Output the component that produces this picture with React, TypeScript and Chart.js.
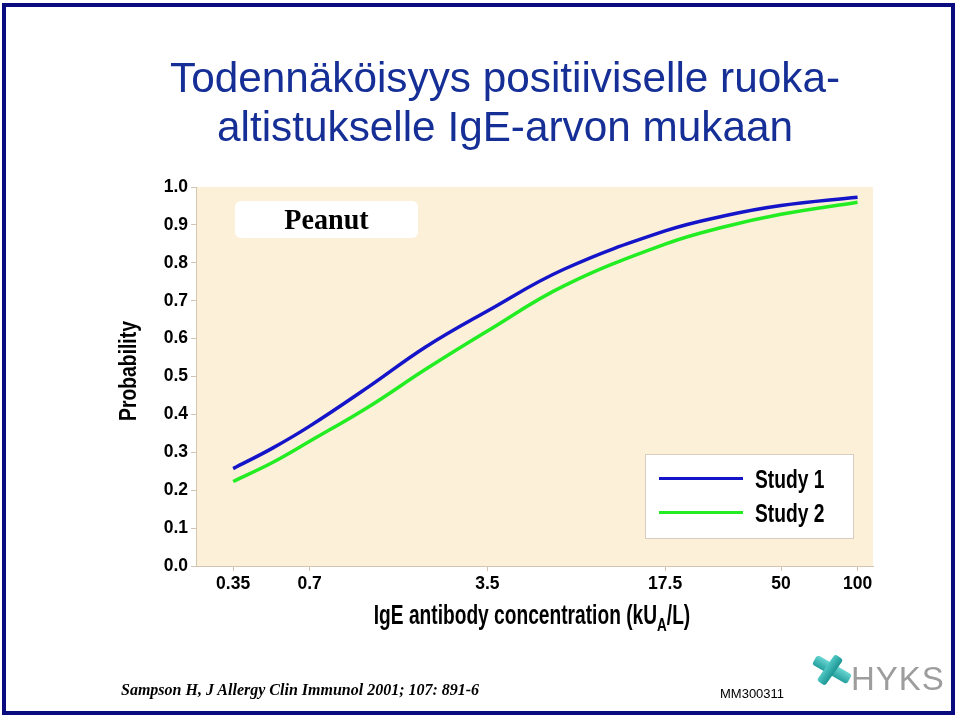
import React, { useEffect, useRef } from "react";
import { Chart, registerables } from "chart.js";

Chart.register(...registerables);

// ---- data ----
const titleLines = ["Todennäköisyys positiiviselle ruoka-", "altistukselle IgE-arvon mukaan"];
const panelLabel = "Peanut";
const yAxisTitle = "Probability";
const seriesNames = ["Study 1", "Study 2"];
const seriesColors = ["#1414c8", "#22ec22"];
const concentrations = [0.35, 0.5, 0.7, 1.2, 2.0, 3.5, 7.0, 17.5, 30, 50, 100];
const study1 = [0.257, 0.311, 0.369, 0.474, 0.578, 0.673, 0.783, 0.884, 0.924, 0.951, 0.973];
const study2 = [0.223, 0.273, 0.329, 0.421, 0.519, 0.62, 0.739, 0.849, 0.895, 0.928, 0.96];
const xTickValues = [0.35, 0.7, 3.5, 17.5, 50, 100];
const xTickLabels = ["0.35", "0.7", "3.5", "17.5", "50", "100"];
const yTickValues = [0, 0.1, 0.2, 0.3, 0.4, 0.5, 0.6, 0.7, 0.8, 0.9, 1.0];
const citation = "Sampson H, J Allergy Clin Immunol 2001; 107: 891-6";
const slideCode = "MM300311";
const logoText = "HYKS";

const SANS = "'Liberation Sans', Arial, Helvetica, sans-serif";
const SERIF = "'Liberation Serif', 'Times New Roman', serif";
const AXIS_COLOR = "#d2c6b2";

const plotBg = {
  id: "plotBg",
  beforeDraw(chart: any) {
    const { ctx, chartArea } = chart;
    if (!chartArea) return;
    ctx.save();
    ctx.fillStyle = "#fdf0d9";
    ctx.fillRect(chartArea.left, chartArea.top, chartArea.right - chartArea.left, chartArea.bottom - chartArea.top);
    ctx.restore();
  },
};

export default function App() {
  const canvasRef = useRef<HTMLCanvasElement | null>(null);

  useEffect(() => {
    document.body.style.margin = "0";
    const canvas = canvasRef.current;
    if (!canvas) return;
    const toPoints = (ys: number[]) => concentrations.map((x, i) => ({ x, y: ys[i] }));
    const chart = new Chart(canvas, {
      type: "line",
      data: {
        datasets: seriesNames.map((name, k) => ({
          label: name,
          data: toPoints(k === 0 ? study1 : study2),
          borderColor: seriesColors[k],
          borderWidth: 3.5,
          pointRadius: 0,
          tension: 0.4,
          fill: false,
        })),
      },
      options: {
        animation: false,
        responsive: false,
        devicePixelRatio: 1,
        layout: { padding: { left: 100, right: 87, top: 187, bottom: 94 } },
        plugins: { legend: { display: false }, tooltip: { enabled: false } },
        scales: {
          x: {
            type: "logarithmic",
            min: 0.25,
            max: 115,
            afterBuildTicks: (scale: any) => {
              scale.ticks = xTickValues.map((v) => ({ value: v }));
            },
            afterFit: (scale: any) => {
              scale.height = 60;
            },
            ticks: {
              autoSkip: false,
              maxRotation: 0,
              padding: 3,
              color: "#000",
              font: { family: SANS, size: 17.5, weight: "bold" },
              callback: (v: any) => {
                const i = xTickValues.indexOf(Number(v));
                return i >= 0 ? xTickLabels[i] : "";
              },
            },
            grid: { drawOnChartArea: false, drawTicks: true, tickLength: 5, color: AXIS_COLOR },
            border: { color: AXIS_COLOR, width: 1 },
          },
          y: {
            type: "linear",
            min: 0,
            max: 1,
            afterBuildTicks: (scale: any) => {
              scale.ticks = yTickValues.map((v) => ({ value: v }));
            },
            afterFit: (scale: any) => {
              scale.width = 96;
            },
            ticks: {
              autoSkip: false,
              padding: 3,
              color: "#000",
              font: { family: SANS, size: 17.5, weight: "bold" },
              callback: (v: any) => Number(v).toFixed(1),
            },
            grid: { drawOnChartArea: false, drawTicks: true, tickLength: 5, color: AXIS_COLOR },
            border: { color: AXIS_COLOR, width: 1 },
          },
        },
      },
      plugins: [plotBg],
    } as any);
    return () => chart.destroy();
  }, []);

  const abs = (s: React.CSSProperties): React.CSSProperties => ({ position: "absolute", ...s });

  return (
    <div style={{ position: "relative", width: 960, height: 720, background: "#fff", overflow: "hidden" }}>
      <canvas ref={canvasRef} width={960} height={720} style={abs({ left: 0, top: 0, width: 960, height: 720 })} />
      {/* frame */}
      <div style={abs({ left: 2, top: 3, width: 945, height: 704, border: "4px solid #0b0b80" })} />
      {/* title */}
      {titleLines.map((t, i) => (
        <div
          key={i}
          style={abs({
            left: 0,
            width: 1010,
            top: 53 + i * 49,
            textAlign: "center",
            fontFamily: SANS,
            fontSize: 42.3,
            lineHeight: "49px",
            color: "#152f96",
            whiteSpace: "nowrap",
          })}
        >
          {t}
        </div>
      ))}
      {/* y axis title */}
      <div
        style={abs({
          left: 127.5 - 75,
          top: 371 - 15,
          width: 150,
          height: 30,
          textAlign: "center",
          fontFamily: SANS,
          fontWeight: "bold",
          fontSize: 23,
          lineHeight: "30px",
          color: "#000",
          whiteSpace: "nowrap",
          transform: "rotate(-90deg) scaleX(0.84)",
        })}
      >
        {yAxisTitle}
      </div>
      {/* panel label */}
      <div
        style={abs({
          left: 235,
          top: 201,
          width: 183,
          height: 37,
          background: "#fff",
          borderRadius: 6,
          textAlign: "center",
          fontFamily: SERIF,
          fontWeight: "bold",
          fontSize: 29,
          lineHeight: "37px",
          color: "#000",
        })}
      >
        <span style={{ display: "inline-block", transform: "scaleX(0.97)" }}>{panelLabel}</span>
      </div>
      {/* legend */}
      <div
        style={abs({
          left: 645,
          top: 454,
          width: 207,
          height: 83,
          background: "#fff",
          border: "1px solid #d6cdbf",
        })}
      >
        {seriesNames.map((n, i) => (
          <div key={n} style={abs({ left: 0, top: 9 + i * 34, width: 207, height: 30 })}>
            <div style={abs({ left: 13, top: 13, width: 84, height: 3, background: seriesColors[i] })} />
            <div
              style={abs({
                left: 109,
                top: 0,
                fontFamily: SANS,
                fontWeight: "bold",
                fontSize: 25,
                lineHeight: "30px",
                color: "#000",
                whiteSpace: "nowrap",
                transform: "scaleX(0.77)",
                transformOrigin: "0 50%",
              })}
            >
              {n}
            </div>
          </div>
        ))}
      </div>
      {/* x axis title */}
      <div
        style={abs({
          left: 232,
          width: 600,
          top: 600,
          textAlign: "center",
          fontFamily: SANS,
          fontWeight: "bold",
          fontSize: 27,
          lineHeight: "30px",
          color: "#000",
          whiteSpace: "nowrap",
          transform: "scaleX(0.71)",
        })}
      >
        IgE antibody concentration (kU<sub style={{ fontSize: 19, verticalAlign: -7, lineHeight: 0 }}>A</sub>/L)
      </div>
      {/* footer */}
      <div
        style={abs({
          left: 121,
          top: 680,
          fontFamily: SERIF,
          fontStyle: "italic",
          fontWeight: "bold",
          fontSize: 16,
          lineHeight: "20px",
          color: "#000",
          whiteSpace: "nowrap",
        })}
      >
        {citation}
      </div>
      <div
        style={abs({
          left: 720,
          top: 687,
          fontFamily: SANS,
          fontSize: 13,
          lineHeight: "14px",
          color: "#000",
        })}
      >
        {slideCode}
      </div>
      {/* logo */}
      <div style={abs({ left: 812, top: 664, width: 40, height: 11, background: "linear-gradient(#6ad6d2,#239f9d)", borderRadius: 3, transform: "rotate(30deg)" })} />
      <div style={abs({ left: 814, top: 665, width: 32, height: 10, background: "linear-gradient(#50c8c5,#1c9593)", borderRadius: 3, transform: "rotate(-55deg)" })} />
      <div
        style={abs({
          left: 851,
          top: 661,
          fontFamily: SANS,
          fontSize: 33,
          lineHeight: "36px",
          color: "#9d9d9d",
          letterSpacing: 1,
        })}
      >
        {logoText}
      </div>
    </div>
  );
}
